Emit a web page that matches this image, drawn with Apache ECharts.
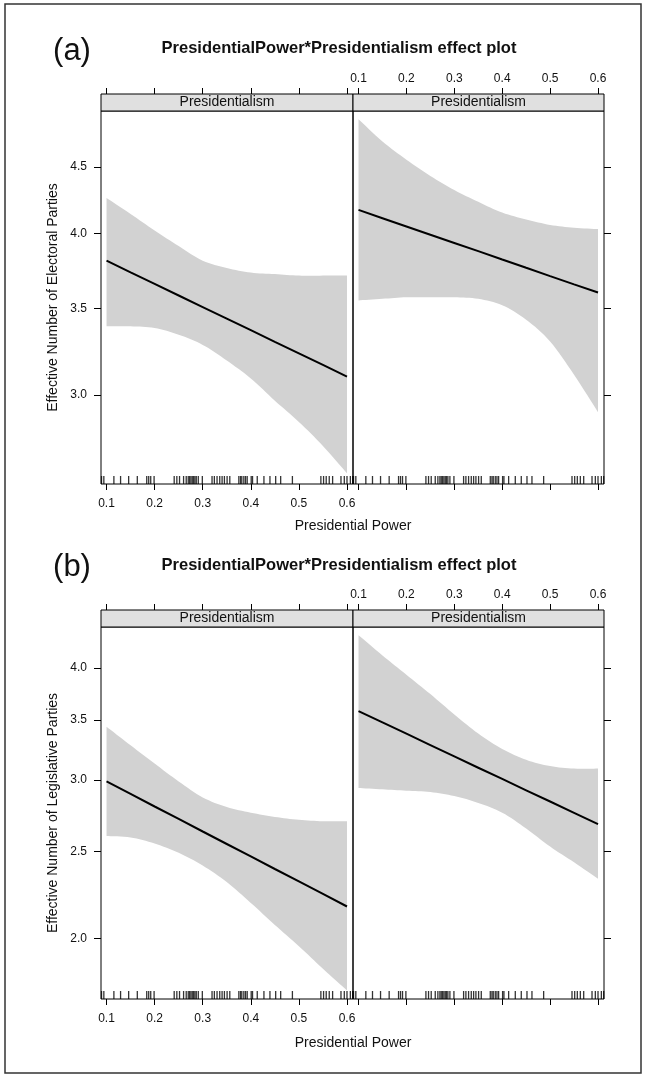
<!DOCTYPE html>
<html>
<head>
<meta charset="utf-8">
<title>PresidentialPower*Presidentialism effect plot</title>
<script src="https://cdn.jsdelivr.net/npm/echarts@6/dist/echarts.min.js"></script>
<style>
  html, body { margin: 0; padding: 0; background: #fff; }
  #chart { width: 645px; height: 1077px; }
</style>
</head>
<body>
<div id="chart"></div>
<script>
// presidential power values the effects were read at
const powerGrid = [0.1, 0.15, 0.2, 0.25, 0.3, 0.35, 0.4, 0.45, 0.5, 0.55, 0.6];
const powerTicks = [0.1, 0.2, 0.3, 0.4, 0.5, 0.6];

// (a) effective number of electoral parties
const enepTicks = [3.0, 3.5, 4.0, 4.5];
const enepLeftFit = [3.810, 3.732, 3.656, 3.581, 3.508, 3.437, 3.367, 3.298, 3.231, 3.165, 3.100];
const enepLeftHi = [4.26, 4.14, 4.02, 3.91, 3.81, 3.76, 3.73, 3.72, 3.71, 3.71, 3.71];
const enepLeftLo = [3.39, 3.39, 3.38, 3.34, 3.28, 3.19, 3.09, 2.97, 2.86, 2.74, 2.61];
const enepRightFit = [4.170, 4.109, 4.049, 3.990, 3.932, 3.875, 3.818, 3.762, 3.707, 3.653, 3.600];
const enepRightHi = [4.90, 4.71, 4.56, 4.43, 4.32, 4.23, 4.15, 4.10, 4.06, 4.04, 4.03];
const enepRightLo = [3.55, 3.56, 3.57, 3.57, 3.57, 3.56, 3.52, 3.43, 3.30, 3.11, 2.91];

// (b) effective number of legislative parties
const enppTicks = [2.0, 2.5, 3.0, 3.5, 4.0];
const enppLeftFit = [2.990, 2.896, 2.804, 2.716, 2.630, 2.547, 2.467, 2.389, 2.314, 2.241, 2.170];
const enppLeftHi = [3.44, 3.28, 3.13, 2.99, 2.87, 2.80, 2.76, 2.73, 2.71, 2.70, 2.70];
const enppLeftLo = [2.60, 2.59, 2.55, 2.49, 2.41, 2.31, 2.19, 2.07, 1.96, 1.85, 1.75];
const enppRightFit = [3.580, 3.478, 3.379, 3.282, 3.188, 3.097, 3.009, 2.923, 2.840, 2.759, 2.680];
const enppRightHi = [4.35, 4.13, 3.93, 3.74, 3.55, 3.38, 3.25, 3.16, 3.11, 3.09, 3.09];
const enppRightLo = [2.94, 2.93, 2.92, 2.91, 2.88, 2.83, 2.76, 2.65, 2.53, 2.43, 2.33];

// observed presidential power (rug)
const rugPower = [0.0896, 0.0944, 0.1153, 0.1292, 0.146, 0.164, 0.1836, 0.1877, 0.1919, 0.1989,
  0.2407, 0.2462, 0.2518, 0.2602, 0.2657, 0.2699, 0.2727, 0.2755, 0.2783, 0.2811, 0.2838,
  0.2866, 0.2908, 0.2992, 0.3194, 0.3242, 0.3298, 0.3354, 0.3403, 0.3451, 0.3507, 0.3563,
  0.3751, 0.3786, 0.3813, 0.3855, 0.389, 0.3925, 0.4008, 0.4036, 0.4134, 0.4273, 0.4398,
  0.4517, 0.4621, 0.4865, 0.5457, 0.5513, 0.5568, 0.5631, 0.5701, 0.5875, 0.5944, 0.6,
  0.607, 0.6118];

const FONT = "'Liberation Sans', Arial, Helvetica, sans-serif";
const ln = Math.log;
const xMin = 0.0885, xMax = 0.6125;

const panels = [
  { box: { left: 101, top: 111, width: 252, height: 373 }, side: "left",
    fit: enepLeftFit, hi: enepLeftHi, lo: enepLeftLo, yMin: 2.561, yMax: 4.972, ticks: enepTicks },
  { box: { left: 353, top: 111, width: 251, height: 373 }, side: "right",
    fit: enepRightFit, hi: enepRightHi, lo: enepRightLo, yMin: 2.561, yMax: 4.972, ticks: enepTicks },
  { box: { left: 101, top: 627, width: 252, height: 372 }, side: "left",
    fit: enppLeftFit, hi: enppLeftHi, lo: enppLeftLo, yMin: 1.712, yMax: 4.442, ticks: enppTicks },
  { box: { left: 353, top: 627, width: 251, height: 372 }, side: "right",
    fit: enppRightFit, hi: enppRightHi, lo: enppRightLo, yMin: 1.712, yMax: 4.442, ticks: enppTicks }
];

const labelStyle = { fontSize: 12, color: "#111", fontFamily: FONT };
const STRIP_H = 17;

// catmull-rom through the read points so the band edges bend smoothly
function smoothPts(pts, n) {
  const out = [];
  for (let i = 0; i < pts.length - 1; i++) {
    const p0 = pts[Math.max(i - 1, 0)], p1 = pts[i], p2 = pts[i + 1];
    const p3 = pts[Math.min(i + 2, pts.length - 1)];
    for (let s = 0; s < n; s++) {
      const t = s / n, t2 = t * t, t3 = t2 * t;
      out.push([0, 1].map(d => 0.5 * (2 * p1[d] + (p2[d] - p0[d]) * t +
        (2 * p0[d] - 5 * p1[d] + 4 * p2[d] - p3[d]) * t2 +
        (3 * p1[d] - p0[d] - 3 * p2[d] + p3[d]) * t3)));
    }
  }
  out.push(pts[pts.length - 1]);
  return out;
}

let grid = [], xAxis = [], yAxis = [], series = [];

panels.forEach((p, i) => {
  grid.push(Object.assign({ show: true, borderColor: "#000", borderWidth: 1,
    backgroundColor: "transparent" }, p.box));

  // bottom axis
  xAxis.push({
    gridIndex: i, type: "value", position: "bottom", min: xMin, max: xMax,
    axisLine: { show: false }, splitLine: { show: false },
    axisTick: { show: true, length: 6, customValues: powerTicks, lineStyle: { color: "#000" } },
    axisLabel: Object.assign({ show: p.side === "left", customValues: powerTicks, margin: 14,
      formatter: v => v.toFixed(1) }, labelStyle)
  });
  // top axis sits above the strip
  xAxis.push({
    gridIndex: i, type: "value", position: "top", offset: STRIP_H, min: xMin, max: xMax,
    axisLine: { show: false }, splitLine: { show: false },
    axisTick: { show: true, length: 6, customValues: powerTicks, lineStyle: { color: "#000" } },
    axisLabel: Object.assign({ show: p.side === "right", customValues: powerTicks, margin: 9,
      formatter: v => v.toFixed(1) }, labelStyle)
  });

  const yTickVals = p.ticks.map(ln);
  yAxis.push({
    gridIndex: i, type: "value", position: p.side, min: ln(p.yMin), max: ln(p.yMax),
    axisLine: { show: false }, splitLine: { show: false },
    axisTick: { show: true, length: 7, customValues: yTickVals, lineStyle: { color: "#000" } },
    axisLabel: Object.assign({ show: p.side === "left", customValues: yTickVals, margin: 14,
      formatter: v => Math.exp(v).toFixed(1) }, labelStyle)
  });

  // confidence band
  series.push({
    type: "custom", xAxisIndex: 2 * i, yAxisIndex: i, silent: true, z: 1,
    data: powerGrid.map((x, k) => [x, ln(p.lo[k]), ln(p.hi[k])]),
    encode: { x: 0, y: [1, 2] },
    renderItem: (params, api) => {
      if (params.dataIndex !== 0) return null;
      const upper = smoothPts(powerGrid.map((x, k) => api.coord([x, ln(p.hi[k])])), 8);
      const lower = smoothPts(powerGrid.map((x, k) => api.coord([x, ln(p.lo[k])])), 8).reverse();
      return { type: "polygon", shape: { points: upper.concat(lower) }, style: { fill: "#d2d2d2" } };
    }
  });

  // fitted effect
  series.push({
    type: "line", xAxisIndex: 2 * i, yAxisIndex: i, silent: true, z: 3,
    data: powerGrid.map((x, k) => [x, ln(p.fit[k])]),
    symbol: "none", lineStyle: { color: "#000", width: 2 }
  });

  // rug
  series.push({
    type: "scatter", xAxisIndex: 2 * i, yAxisIndex: i, silent: true, z: 4,
    data: rugPower.map(x => [x, ln(p.yMin)]),
    symbol: "rect", symbolSize: [1.3, 8], symbolOffset: [0, -4],
    itemStyle: { color: "#000" }
  });
});

function txt(x, y, text, size, extra) {
  return Object.assign({
    type: "text", x: x, y: y,
    style: Object.assign({ text: text, fontSize: size, fontFamily: FONT, fill: "#111",
      align: "center", verticalAlign: "middle" }, (extra && extra.style) || {})
  }, extra && extra.rotation ? { rotation: extra.rotation } : {});
}

function strip(p) {
  const b = p.box;
  return [
    { type: "rect", shape: { x: b.left, y: b.top - STRIP_H, width: b.width, height: STRIP_H },
      style: { fill: "#e0e0e0", stroke: "#000", lineWidth: 1 } },
    txt(b.left + b.width / 2, b.top - STRIP_H / 2, "Presidentialism", 14)
  ];
}

const graphics = [
  { type: "rect", shape: { x: 5, y: 4, width: 636, height: 1069 },
    style: { fill: "none", stroke: "#333", lineWidth: 1.5 } },
  txt(339, 48, "PresidentialPower*Presidentialism effect plot", 16.5, { style: { fontWeight: "bold" } }),
  txt(339, 565, "PresidentialPower*Presidentialism effect plot", 16.5, { style: { fontWeight: "bold" } }),
  txt(72, 51, "(a)", 31),
  txt(72, 567, "(b)", 31),
  txt(353, 526, "Presidential Power", 14),
  txt(353, 1043, "Presidential Power", 14),
  txt(53, 297.5, "Effective Number of Electoral Parties", 14, { rotation: Math.PI / 2 }),
  txt(53, 813, "Effective Number of Legislative Parties", 14, { rotation: Math.PI / 2 })
].concat(...panels.map(strip));

const chart = echarts.init(document.getElementById("chart"));
chart.setOption({
  animation: false,
  backgroundColor: "#fff",
  grid: grid,
  xAxis: xAxis,
  yAxis: yAxis,
  series: series,
  graphic: { elements: graphics }
});
</script>
</body>
</html>
